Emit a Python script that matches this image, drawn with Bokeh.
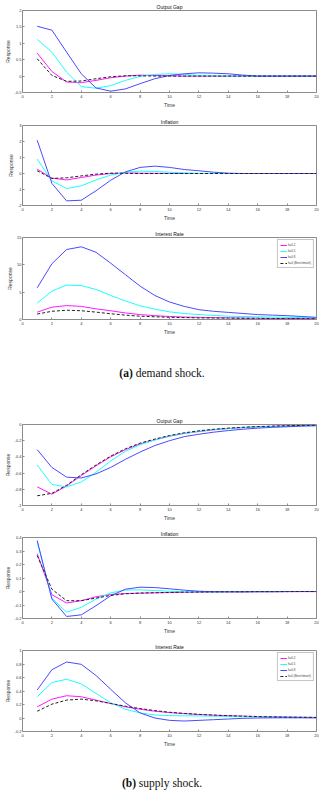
from bokeh.plotting import figure
from bokeh.layouts import column
from bokeh.models import (FixedTicker, Range1d, Div,
                          CustomJSTickFormatter, Legend, LegendItem)
from bokeh.embed import file_html
from bokeh.resources import INLINE

# ---------------- data ----------------
time = list(range(1, 21))
x_ticks = [0, 2, 4, 6, 8, 10, 12, 14, 16, 18, 20]
series_labels = ["h=0.2", "h=0.5", "h=0.8", "h=0 (Benchmark)"]

# (a) demand shock
d_gap_h02 = [0.70, 0.14, -0.18, -0.20, -0.13, -0.05, 0.0, 0.03, 0.02, 0.01, 0.0, 0.0, 0.0, 0.0, 0.0, 0.0, 0.0, 0.0, 0.0, 0.0]
d_gap_h05 = [1.12, 0.73, 0.12, -0.32, -0.37, -0.29, -0.13, -0.01, 0.05, 0.07, 0.05, 0.02, 0.01, 0.0, 0.0, 0.0, 0.0, 0.0, 0.0, 0.0]
d_gap_h08 = [1.52, 1.40, 0.73, 0.07, -0.36, -0.46, -0.39, -0.23, -0.08, 0.02, 0.07, 0.10, 0.09, 0.07, 0.03, 0.0, 0.0, 0.0, 0.0, 0.0]
d_gap_h0 = [0.53, 0.02, -0.16, -0.15, -0.08, -0.02, 0.01, 0.01, 0.0, 0.0, 0.0, 0.0, 0.0, 0.0, 0.0, 0.0, 0.0, 0.0, 0.0, 0.0]

d_inf_h02 = [0.27, -0.29, -0.40, -0.25, -0.10, 0.0, 0.04, 0.02, 0.01, 0.0, 0.0, 0.0, 0.0, 0.0, 0.0, 0.0, 0.0, 0.0, 0.0, 0.0]
d_inf_h05 = [0.90, -0.46, -0.94, -0.77, -0.40, -0.10, 0.08, 0.15, 0.13, 0.08, 0.04, 0.01, 0.0, 0.0, 0.0, 0.0, 0.0, 0.0, 0.0, 0.0]
d_inf_h08 = [2.08, -0.62, -1.71, -1.67, -1.08, -0.42, 0.10, 0.38, 0.46, 0.38, 0.25, 0.17, 0.08, 0.02, 0.0, 0.0, 0.0, 0.0, 0.0, 0.0]
d_inf_h0 = [0.17, -0.31, -0.27, -0.15, -0.04, 0.02, 0.01, 0.0, 0.0, 0.0, 0.0, 0.0, 0.0, 0.0, 0.0, 0.0, 0.0, 0.0, 0.0, 0.0]

d_int_h02 = [1.35, 2.25, 2.55, 2.40, 1.95, 1.60, 1.20, 0.90, 0.70, 0.55, 0.45, 0.40, 0.35, 0.30, 0.27, 0.25, 0.22, 0.20, 0.18, 0.15]
d_int_h05 = [3.0, 5.2, 6.3, 6.2, 5.5, 4.4, 3.4, 2.5, 1.9, 1.4, 1.1, 0.9, 0.75, 0.6, 0.55, 0.5, 0.45, 0.4, 0.35, 0.3]
d_int_h08 = [5.8, 10.2, 12.8, 13.3, 12.3, 10.3, 8.2, 6.1, 4.4, 3.2, 2.4, 1.8, 1.5, 1.3, 1.1, 0.9, 0.8, 0.7, 0.55, 0.4]
d_int_h0 = [1.0, 1.5, 1.7, 1.6, 1.35, 1.05, 0.8, 0.6, 0.5, 0.4, 0.35, 0.3, 0.27, 0.25, 0.22, 0.2, 0.18, 0.17, 0.15, 0.14]

# (b) supply shock
s_gap_h02 = [-0.77, -0.86, -0.76, -0.63, -0.51, -0.40, -0.31, -0.24, -0.19, -0.145, -0.11, -0.087, -0.066, -0.05, -0.038, -0.029, -0.022, -0.017, -0.013, -0.01]
s_gap_h05 = [-0.50, -0.74, -0.77, -0.71, -0.59, -0.45, -0.33, -0.25, -0.19, -0.14, -0.11, -0.083, -0.062, -0.05, -0.037, -0.029, -0.024, -0.02, -0.016, -0.012]
s_gap_h08 = [-0.31, -0.53, -0.65, -0.66, -0.61, -0.53, -0.43, -0.34, -0.26, -0.20, -0.15, -0.12, -0.095, -0.075, -0.058, -0.045, -0.035, -0.028, -0.02, -0.016]
s_gap_h0 = [-0.88, -0.85, -0.75, -0.62, -0.50, -0.39, -0.30, -0.23, -0.18, -0.136, -0.103, -0.078, -0.059, -0.045, -0.034, -0.026, -0.02, -0.015, -0.011, -0.009]

s_inf_h02 = [0.28, -0.024, -0.085, -0.068, -0.039, -0.022, -0.015, -0.012, -0.01, -0.008, -0.006, -0.005, -0.004, -0.003, -0.003, -0.002, -0.002, -0.001, -0.001, -0.001]
s_inf_h05 = [0.366, -0.049, -0.154, -0.117, -0.056, -0.01, 0.01, 0.012, 0.007, 0.002, -0.002, -0.003, -0.003, -0.002, -0.002, -0.001, -0.001, 0.0, 0.0, 0.0]
s_inf_h08 = [0.378, -0.056, -0.185, -0.173, -0.105, -0.032, 0.017, 0.032, 0.029, 0.02, 0.01, 0.002, -0.001, -0.002, -0.002, -0.001, -0.001, 0.0, 0.0, 0.0]
s_inf_h0 = [0.266, 0.017, -0.068, -0.068, -0.049, -0.029, -0.017, -0.012, -0.009, -0.007, -0.005, -0.004, -0.003, -0.002, -0.002, -0.001, -0.001, -0.001, 0.0, 0.0]

s_int_h02 = [0.165, 0.28, 0.33, 0.315, 0.265, 0.215, 0.165, 0.13, 0.10, 0.08, 0.065, 0.052, 0.042, 0.034, 0.027, 0.022, 0.018, 0.014, 0.011, 0.009]
s_int_h05 = [0.315, 0.525, 0.575, 0.505, 0.365, 0.225, 0.13, 0.075, 0.045, 0.035, 0.033, 0.03, 0.027, 0.024, 0.02, 0.017, 0.014, 0.011, 0.009, 0.007]
s_int_h08 = [0.415, 0.715, 0.83, 0.795, 0.63, 0.425, 0.225, 0.075, 0.0, -0.035, -0.045, -0.035, -0.025, -0.015, -0.005, 0.0, 0.002, 0.003, 0.002, 0.001]
s_int_h0 = [0.10, 0.205, 0.265, 0.28, 0.255, 0.215, 0.175, 0.14, 0.11, 0.085, 0.068, 0.054, 0.043, 0.034, 0.027, 0.021, 0.017, 0.013, 0.01, 0.008]

gap_d_ticks = [-0.5, 0, 0.5, 1, 1.5, 2]
inf_d_ticks = [-2, -1, 0, 1, 2, 3]
int_d_ticks = [0, 5, 10, 15]
gap_s_ticks = [-1, -0.8, -0.6, -0.4, -0.2, 0]
inf_s_ticks = [-0.2, -0.1, 0, 0.1, 0.2, 0.3, 0.4]
int_s_ticks = [-0.2, 0, 0.2, 0.4, 0.6, 0.8, 1]

# ---------------- style ----------------
COLORS = ["#ff1aff", "#1affff", "#4a4aff", "#222222"]
DASHES = ["solid", "solid", "solid", "3 2"]
SANS = "Liberation Sans"
FRAME = "#8c8c8c"
W = 324

fmt = CustomJSTickFormatter(code="return String(Math.round(tick*1e6)/1e6);")


def style_axis(ax, ticks, label):
    ax.ticker = FixedTicker(ticks=ticks)
    ax.formatter = fmt
    ax.axis_line_color = None
    ax.major_tick_in = 2
    ax.major_tick_out = 0
    ax.major_tick_line_color = FRAME
    ax.minor_tick_line_color = None
    ax.major_label_text_font = SANS
    ax.major_label_text_color = "#333333"
    ax.major_label_text_font_size = "4px"
    ax.major_label_standoff = 2
    ax.axis_label = label
    ax.axis_label_text_font = SANS
    ax.axis_label_text_font_size = "5px"
    ax.axis_label_text_font_style = "normal"
    ax.axis_label_text_color = "#333333"
    ax.axis_label_standoff = 1


def panel(title, series, y_lo, y_hi, y_ticks, top, frame_h, bottom, legend=False):
    p = figure(width=W, height=top + frame_h + bottom,
               x_range=Range1d(0, 20), y_range=Range1d(y_lo, y_hi),
               output_backend="svg", toolbar_location=None,
               min_border_left=22, min_border_right=8,
               min_border_top=top, min_border_bottom=bottom)
    p.title.text = title
    p.title.align = "center"
    p.title.text_font = SANS
    p.title.text_font_size = "5px"
    p.title.text_font_style = "normal"
    p.title.text_color = "#111111"
    p.title.standoff = 2
    p.title.offset = 0
    p.xgrid.visible = False
    p.ygrid.visible = False
    p.outline_line_color = FRAME
    p.outline_line_width = 1
    p.background_fill_color = "white"
    p.border_fill_color = "white"

    style_axis(p.xaxis[0], x_ticks, "Time")
    style_axis(p.yaxis[0], y_ticks, "Response")
    p.yaxis[0].major_label_standoff = 1

    items = []
    for ys, c, d, lab in zip(series, COLORS, DASHES, series_labels):
        r = p.line(time, ys, line_color=c, line_width=1, line_dash=d)
        items.append(LegendItem(label=lab, renderers=[r]))
    if legend:
        lg = Legend(items=items, location="top_right")
        lg.label_text_font = SANS
        lg.label_text_font_size = "3px"
        lg.label_height = 5
        lg.glyph_height = 4
        lg.glyph_width = 7
        lg.spacing = 1
        lg.padding = 2
        lg.margin = 2
        lg.label_standoff = 1
        lg.border_line_color = FRAME
        lg.background_fill_alpha = 1
        p.add_layout(lg, "center")
    return p


def caption(letter, text, height, pad):
    html = ('<div style="width:%dpx;text-align:center;font-family:\'Liberation Serif\',serif;'
            'font-size:11.5px;color:#111;padding-top:%dpx;line-height:13px">'
            '<b>(%s)</b> %s</div>' % (W, pad, letter, text))
    return Div(text=html, width=W, height=height, margin=0)


p1 = panel("Output Gap", [d_gap_h02, d_gap_h05, d_gap_h08, d_gap_h0], -0.5, 2, gap_d_ticks, 10, 82, 23)
p2 = panel("Inflation", [d_inf_h02, d_inf_h05, d_inf_h08, d_inf_h0], -2, 3, inf_d_ticks, 10, 80, 22)
p3 = panel("Interest Rate", [d_int_h02, d_int_h05, d_int_h08, d_int_h0], 0, 15, int_d_ticks, 10, 82, 22, legend=True)
c1 = caption("a", "demand shock.", 73, 26)
p4 = panel("Output Gap", [s_gap_h02, s_gap_h05, s_gap_h08, s_gap_h0], -1, 0, gap_s_ticks, 10, 81, 22)
p5 = panel("Inflation", [s_inf_h02, s_inf_h05, s_inf_h08, s_inf_h0], -0.2, 0.4, inf_s_ticks, 10, 81, 22)
p6 = panel("Interest Rate", [s_int_h02, s_int_h05, s_int_h08, s_int_h0], -0.2, 1, int_s_ticks, 10, 81, 22, legend=True)
c2 = caption("b", "supply shock.", 42, 24)

layout = column(p1, p2, p3, c1, p4, p5, p6, c2, spacing=0)

open("out.html", "w").write(file_html(layout, INLINE))
